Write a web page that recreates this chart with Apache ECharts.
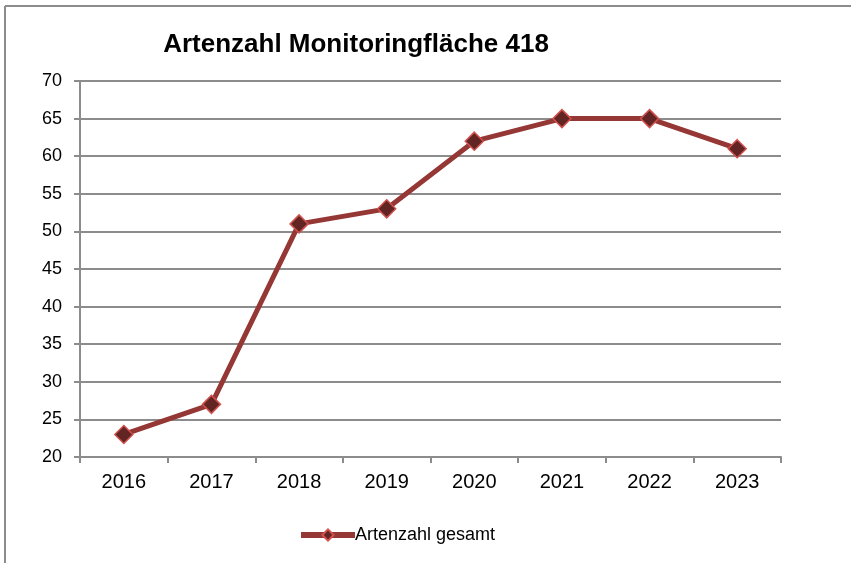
<!DOCTYPE html>
<html>
<head>
<meta charset="utf-8">
<script src="https://cdn.jsdelivr.net/npm/echarts@6/dist/echarts.min.js"></script>
<style>
  html, body { margin: 0; padding: 0; background: #fff; }
  #chart { width: 851px; height: 563px; }
</style>
</head>
<body>
<div id="chart"></div>
<script>
// Jahre und Artenzahl
const years = ["2016", "2017", "2018", "2019", "2020", "2021", "2022", "2023"];
const artenzahl = [23, 27, 51, 53, 62, 65, 65, 61];
const seriesName = "Artenzahl gesamt";
const titleText = "Artenzahl Monitoringfläche 418";

const chart = echarts.init(document.getElementById("chart"));
chart.setOption({
  animation: false,
  textStyle: { fontFamily: "Liberation Sans, Arial, sans-serif" },
  // Rahmen oben und links
  graphic: [
    { type: "line", shape: { x1: 5, y1: 6, x2: 851, y2: 6 }, style: { stroke: "#8c8c8c", lineWidth: 2 } },
    { type: "line", shape: { x1: 5, y1: 6, x2: 5, y2: 563 }, style: { stroke: "#8c8c8c", lineWidth: 2 } }
  ],
  title: {
    text: titleText,
    left: 351,
    top: 27,
    textAlign: "center",
    textStyle: { fontSize: 26, fontWeight: "bold", color: "#000" }
  },
  legend: {
    data: [{ name: seriesName, lineStyle: { width: 6 } }],
    left: 293,
    top: 521,
    itemWidth: 54,
    itemHeight: 14,
    itemGap: 4,
    textStyle: { fontSize: 18, color: "#000", padding: [0, 0, 0, -5] }
  },
  grid: { left: 80, right: 70, top: 81, bottom: 106 },
  xAxis: {
    type: "category",
    data: years,
    boundaryGap: true,
    axisLine: { lineStyle: { color: "#8c8c8c", width: 2 } },
    axisTick: { show: true, length: 6, lineStyle: { color: "#8c8c8c", width: 2 } },
    axisLabel: { fontSize: 20, color: "#000", margin: 15 }
  },
  yAxis: {
    type: "value",
    min: 20,
    max: 70,
    interval: 5,
    axisLine: { show: true, lineStyle: { color: "#8c8c8c", width: 2 } },
    axisTick: { show: true, length: 6, lineStyle: { color: "#8c8c8c", width: 2 } },
    axisLabel: { fontSize: 18, color: "#000", margin: 18 },
    splitLine: { lineStyle: { color: "#8c8c8c", width: 2 } }
  },
  series: [
    {
      name: seriesName,
      type: "line",
      data: artenzahl,
      symbol: "diamond",
      symbolSize: 18,
      lineStyle: { color: "#953735", width: 5 },
      itemStyle: { color: "#632523", borderColor: "#d0504d", borderWidth: 1.5 }
    }
  ]
});
</script>
</body>
</html>
